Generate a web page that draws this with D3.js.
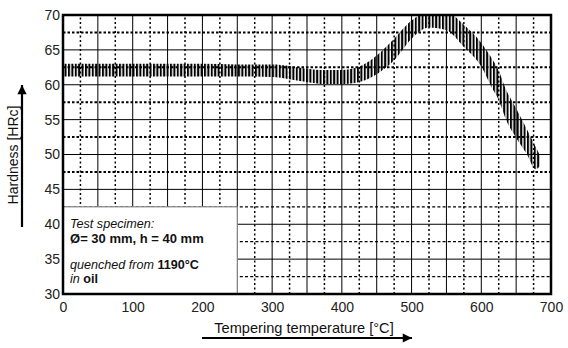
<!DOCTYPE html>
<html><head><meta charset="utf-8">
<script src="https://cdn.jsdelivr.net/npm/d3@7"></script>
<style>body{margin:0;background:#fff}svg{display:block}text{font-family:"Liberation Sans",Arial,sans-serif}</style>
</head><body><svg id="c" width="568" height="348"></svg>
<script>
const temps = [0, 50, 100, 150, 200, 250, 300, 325, 350, 375, 400, 425, 450, 475, 500, 525, 550, 575, 600, 615, 625, 635, 650, 665, 678, 684];
const upper = [63.0, 63.0, 63.0, 63.0, 63.0, 62.9, 62.9, 62.7, 62.3, 62.1, 62.1, 62.6, 64.2, 66.6, 69.2, 70.4, 70.4, 68.6, 66.0, 63.8, 62.0, 59.4, 56.6, 53.7, 51.1, 49.9];
const lower = [61.2, 61.2, 61.2, 61.2, 61.2, 61.2, 61.1, 60.8, 60.4, 60.1, 60.1, 60.4, 61.5, 63.5, 66.6, 68.2, 67.8, 65.4, 62.6, 59.6, 57.8, 55.1, 52.4, 50.1, 47.9, 48.3];
const xTicks = [0, 100, 200, 300, 400, 500, 600, 700];
const yTicks = [30, 35, 40, 45, 50, 55, 60, 65, 70];
const xGridSolid = [50, 100, 150, 200, 250, 300, 350, 400, 450, 500, 550, 600, 650];
const xGridDot = [25, 75, 125, 175, 225, 275, 325, 375, 425, 475, 525, 575, 625, 675];
const yGridSolid = [35, 40, 45, 50, 55, 60, 65];
const yGridDot = [32.5, 37.5, 42.5, 47.5, 52.5, 57.5, 62.5, 67.5];
const boxTemp = [0, 250];
const boxHard = [30, 42.5];
const xTitle = "Tempering temperature [°C]";
const yTitle = "Hardness [HRc]";

const svg = d3.select("#c");
const x = d3.scaleLinear().domain([0, 700]).range([63, 551]);
const y = d3.scaleLinear().domain([30, 70]).range([294, 15]);

const defs = svg.append("defs");
const pat = defs.append("pattern").attr("id", "hatch").attr("patternUnits", "userSpaceOnUse")
  .attr("width", 3.4).attr("height", 10);
pat.append("rect").attr("x", 0).attr("y", 0).attr("width", 2).attr("height", 10).attr("fill", "#000");
defs.append("clipPath").attr("id", "plotclip").append("rect")
  .attr("x", x(0)).attr("y", y(70)).attr("width", x(700) - x(0)).attr("height", y(30) - y(70));
const arrowDef = defs.append("marker").attr("id", "arr").attr("viewBox", "0 0 10 10")
  .attr("refX", 10).attr("refY", 5).attr("markerWidth", 5).attr("markerHeight", 4.2)
  .attr("orient", "auto").attr("markerUnits", "strokeWidth");
arrowDef.append("path").attr("d", "M0,0 L10,5 L0,10 z").attr("fill", "#000");

const g = svg.append("g");
// grid
g.selectAll(".vs").data(xGridSolid).join("line")
  .attr("x1", d => x(d)).attr("x2", d => x(d)).attr("y1", y(30)).attr("y2", y(70))
  .attr("stroke", "#000").attr("stroke-width", 1);
g.selectAll(".vd").data(xGridDot).join("line")
  .attr("x1", d => x(d)).attr("x2", d => x(d)).attr("y1", y(30)).attr("y2", y(70))
  .attr("stroke", "#000").attr("stroke-width", 1.5).attr("stroke-dasharray", "2,2.5");
g.selectAll(".hs").data(yGridSolid).join("line")
  .attr("x1", x(0)).attr("x2", x(700)).attr("y1", d => y(d)).attr("y2", d => y(d))
  .attr("stroke", "#000").attr("stroke-width", 1);
g.selectAll(".hd").data(yGridDot).join("line")
  .attr("x1", x(0)).attr("x2", x(700)).attr("y1", d => y(d)).attr("y2", d => y(d))
  .attr("stroke", "#000").attr("stroke-width", d => d > 45 ? 2 : 1.2)
  .attr("stroke-dasharray", d => d > 45 ? "2.5,2" : "3,2.2");

// hatched band
const pts = temps.map((t, i) => ({t, u: upper[i], l: lower[i]}));
const area = d3.area().x(d => x(d.t)).y0(d => y(d.l)).y1(d => y(d.u)).curve(d3.curveMonotoneX);
svg.append("path").datum(pts).attr("d", area).attr("fill", "url(#hatch)")
  .attr("clip-path", "url(#plotclip)");

// legend box
svg.append("rect").attr("x", x(boxTemp[0])).attr("y", y(boxHard[1]))
  .attr("width", x(boxTemp[1]) - x(boxTemp[0])).attr("height", y(boxHard[0]) - y(boxHard[1]))
  .attr("fill", "#fff").attr("stroke", "#888").attr("stroke-width", 1.2);

const lg = svg.append("g").attr("font-size", 12.6).attr("fill", "#111");
lg.append("text").attr("x", 70).attr("y", 228).attr("font-style", "italic").text("Test specimen:");
const l2 = lg.append("text").attr("x", 70).attr("y", 243).attr("font-weight", "bold").attr("font-size", 13);
l2.append("tspan").text("Ø");
l2.append("tspan").text("= 30 mm, h = 40 mm");
const l3 = lg.append("text").attr("x", 70).attr("y", 268.5);
l3.append("tspan").attr("font-style", "italic").text("quenched from ");
l3.append("tspan").attr("font-weight", "bold").text("1190°C");
const l4 = lg.append("text").attr("x", 70).attr("y", 283);
l4.append("tspan").attr("font-style", "italic").text("in ");
l4.append("tspan").attr("font-weight", "bold").text("oil");

// frame
svg.append("rect").attr("x", x(0)).attr("y", y(70)).attr("width", x(700) - x(0)).attr("height", y(30) - y(70))
  .attr("fill", "none").attr("stroke", "#000").attr("stroke-width", 2.5);

// axes labels
const xa = svg.append("g").attr("transform", `translate(0,${y(30)})`)
  .call(d3.axisBottom(x).tickValues(xTicks).tickSize(0).tickPadding(8).tickFormat(d3.format("d")));
xa.select(".domain").remove();
xa.selectAll("text").attr("font-size", 14).attr("fill", "#222").attr("font-family", "Liberation Sans, Arial, sans-serif");
const ya = svg.append("g").attr("transform", `translate(${x(0)},0)`)
  .call(d3.axisLeft(y).tickValues(yTicks).tickSize(0).tickPadding(3).tickFormat(d3.format("d")));
ya.select(".domain").remove();
ya.selectAll("text").attr("font-size", 14).attr("fill", "#222").attr("font-family", "Liberation Sans, Arial, sans-serif");

// titles + arrows
svg.append("text").attr("x", 304).attr("y", 333).attr("text-anchor", "middle")
  .attr("font-size", 14.6).attr("fill", "#111").text(xTitle);
svg.append("line").attr("x1", 202).attr("x2", 412).attr("y1", 338).attr("y2", 338)
  .attr("stroke", "#000").attr("stroke-width", 2.2).attr("marker-end", "url(#arr)");
svg.append("text").attr("transform", "translate(18,155) rotate(-90)").attr("text-anchor", "middle")
  .attr("font-size", 14).attr("fill", "#111").text(yTitle);
svg.append("line").attr("x1", 22).attr("x2", 22).attr("y1", 227).attr("y2", 85)
  .attr("stroke", "#000").attr("stroke-width", 2.2).attr("marker-end", "url(#arr)");
</script></body></html>
